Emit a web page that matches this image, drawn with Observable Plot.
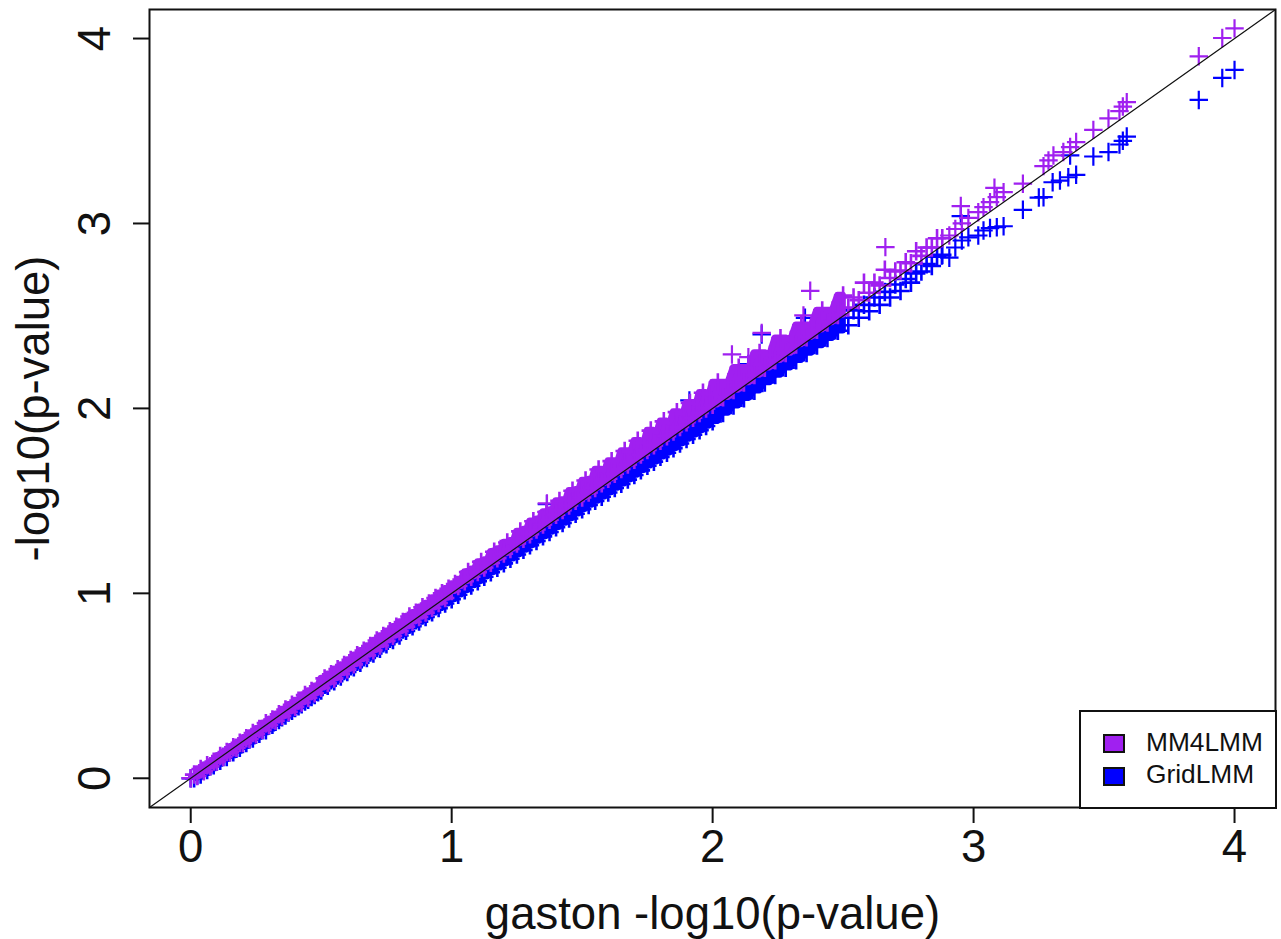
<!DOCTYPE html>
<html><head><meta charset="utf-8">
<script src="https://cdn.jsdelivr.net/npm/d3@7"></script>
<script src="https://cdn.jsdelivr.net/npm/@observablehq/plot@0.6"></script>
<style>
html,body{margin:0;padding:0;background:#fff;font-family:"Liberation Sans",Arial,sans-serif}
#wrap{position:relative;width:1281px;height:939px;overflow:hidden}
#legend{position:absolute;left:1080px;top:711px;width:194px;height:95px;background:#fff;border:2px solid #111;box-sizing:content-box;margin:-1px}
#legend .s{position:absolute;left:22px;width:18px;height:15px;border:2px solid #111}
#legend .t{position:absolute;left:65px;font-size:26.3px;line-height:28px;color:#111}
</style></head><body>
<div id="wrap"><div id="chart"></div>
<div id="legend">
<div class="s" style="top:22px;background:#A020F0"></div><div class="t" style="top:16px">MM4LMM</div>
<div class="s" style="top:55px;background:#0000FF"></div><div class="t" style="top:48px">GridLMM</div>
</div></div>
<script>
const gaston = [0,.013,.025,.038,.05,.063,.075,.088,.1,.113,.125,.138,.15,.163,.175,.188,.2,.213,.225,.238,.25,.263,.275,.288,.3,.313,.325,.338,.35,.363,.375,.388,.4,.413,.425,.438,.45,.463,.475,.488,
.5,.513,.525,.538,.55,.563,.575,.588,.6,.613,.625,.638,.65,.663,.675,.688,.7,.713,.725,.738,.75,.763,.775,.788,.8,.813,.825,.838,.85,.863,.875,.888,.9,.913,.925,.938,.95,.963,.975,.988,
1,1.013,1.025,1.038,1.05,1.063,1.075,1.088,1.1,1.113,1.125,1.138,1.15,1.163,1.175,1.188,1.2,1.213,1.225,1.238,1.25,1.263,1.275,1.288,1.3,1.313,1.325,1.338,1.35,1.363,1.375,1.388,1.4,1.413,1.425,1.438,1.45,1.463,1.475,1.488,
1.5,1.513,1.525,1.538,1.55,1.563,1.575,1.588,1.6,1.613,1.625,1.638,1.65,1.663,1.675,1.688,1.7,1.713,1.725,1.738,1.75,1.763,1.775,1.788,1.8,1.813,1.825,1.838,1.85,1.863,1.875,1.888,1.9,1.913,1.925,1.938,1.95,1.963,1.975,1.988,
2,2.02,2.04,2.06,2.08,2.1,2.12,2.14,2.16,2.18,2.2,2.22,2.24,2.26,2.28,2.3,2.32,2.34,2.36,2.38,2.4,2.42,2.44,2.46,2.48,2.5,2.52,2.54,2.56,2.58,2.6,2.62,2.64,2.66,2.68,2.7,2.72,2.74,2.76,2.78,2.8,2.82,2.84,2.86,2.88];
const mm4lmm = [0,.02,.012,.05,.038,.07,.065,.09,.09,.12,.115,.142,.14,.168,.165,.192,.19,.216,.212,.245,.238,.266,.262,.298,.288,.318,.312,.346,.336,.372,.36,.398,.386,.42,.41,.45,.436,.472,.46,.497,
.49,.54,.515,.562,.54,.59,.566,.612,.59,.64,.616,.665,.642,.69,.667,.715,.692,.745,.718,.77,.744,.795,.77,.82,.795,.845,.82,.875,.846,.895,.872,.925,.896,.945,.922,.975,.948,1.0,.975,1.025,
1.012,1.05,1.04,1.075,1.065,1.115,1.09,1.13,1.115,1.17,1.14,1.18,1.165,1.225,1.19,1.24,1.215,1.275,1.24,1.285,1.27,1.335,1.295,1.345,1.32,1.39,1.345,1.4,1.372,1.44,1.398,1.45,1.425,1.5,1.45,1.505,1.475,1.555,1.5,1.56,
1.518,1.61,1.545,1.615,1.57,1.67,1.595,1.66,1.62,1.715,1.647,1.715,1.672,1.77,1.697,1.765,1.722,1.825,1.75,1.815,1.775,1.88,1.8,1.87,1.825,1.93,1.85,1.92,1.875,1.98,1.9,1.97,1.925,2.03,1.95,2.025,1.975,2.085,2.0,2.075,
2.02,2.14,2.06,2.14,2.10,2.22,2.14,2.22,2.18,2.3,2.22,2.29,2.26,2.38,2.3,2.37,2.345,2.45,2.385,2.45,2.425,2.53,2.465,2.53,2.505,2.61,2.545,2.6,2.585,2.68,2.625,2.68,2.665,2.75,2.705,2.74,2.745,2.79,2.785,2.85,2.825,2.87,2.87,2.92,2.92];
const gridlmm = [0,0,.015,.02,.04,.045,.065,.07,.09,.095,.115,.115,.14,.14,.16,.165,.185,.19,.21,.215,.235,.24,.26,.26,.285,.29,.305,.315,.33,.34,.355,.365,.38,.39,.4,.415,.425,.44,.45,.465,
.475,.505,.5,.53,.525,.555,.55,.58,.575,.605,.6,.63,.625,.655,.65,.68,.675,.705,.7,.73,.725,.755,.748,.78,.772,.805,.797,.83,.822,.855,.847,.88,.872,.905,.897,.93,.92,.955,.945,.98,
.968,1.005,.992,1.03,1.017,1.055,1.042,1.08,1.065,1.105,1.09,1.13,1.114,1.155,1.138,1.18,1.162,1.205,1.187,1.23,1.21,1.255,1.235,1.28,1.26,1.305,1.283,1.33,1.308,1.355,1.332,1.38,1.357,1.405,1.38,1.43,1.405,1.455,1.43,1.48,
1.455,1.505,1.478,1.53,1.5,1.555,1.522,1.58,1.545,1.605,1.57,1.63,1.592,1.655,1.615,1.68,1.64,1.705,1.665,1.73,1.69,1.755,1.712,1.78,1.738,1.805,1.76,1.83,1.785,1.855,1.81,1.88,1.835,1.905,1.858,1.93,1.882,1.955,1.905,1.98,
1.93,2.01,1.975,2.05,2.015,2.09,2.055,2.13,2.095,2.17,2.14,2.21,2.18,2.25,2.22,2.29,2.26,2.33,2.3,2.37,2.34,2.41,2.38,2.45,2.42,2.49,2.45,2.53,2.49,2.56,2.525,2.6,2.56,2.63,2.6,2.67,2.635,2.7,2.68,2.73,2.74,2.78,2.77,2.82,2.83];
const mm4lmmTailX = [1.365,2.074,2.137,2.188,2.348,2.374,2.662,2.907,2.93,2.951,2.955,2.98,3.018,3.038,3.063,3.08,3.089,3.115,3.189,3.268,3.287,3.306,3.344,3.37,3.393,3.459,3.517,3.559,3.572,3.587,3.863,3.953,4.0];
const mm4lmmTailY = [1.486,2.292,2.277,2.408,2.503,2.636,2.872,2.935,2.97,3.094,3.0,3.03,3.061,3.088,3.115,3.193,3.142,3.169,3.215,3.31,3.341,3.368,3.386,3.413,3.44,3.506,3.568,3.607,3.632,3.656,3.904,4.003,4.055];
const gridlmmTailX = [1.365,1.911,2.137,2.188,2.354,2.907,2.878,2.93,2.951,2.955,2.98,3.018,3.038,3.063,3.089,3.115,3.189,3.25,3.268,3.303,3.331,3.363,3.37,3.393,3.459,3.517,3.559,3.572,3.587,3.863,3.953,4.0];
const gridlmmTailY = [1.482,2.043,2.24,2.4,2.49,2.815,2.827,2.87,3.04,2.908,2.925,2.935,2.962,2.975,2.98,2.985,3.074,3.14,3.142,3.223,3.232,3.25,3.368,3.263,3.362,3.386,3.427,3.447,3.47,3.668,3.787,3.83];
const xTicks = [0,1,2,3,4];
const yTicks = [0,1,2,3,4];
const identityLine = [-0.158,4.157];
const domain = [-0.158,4.157];
const denseUpTo = 2.5;

const font = '"Liberation Sans",Arial,sans-serif';
const gridBand = gaston.map((x,i)=>({x,y:gridlmm[i]}));
const gridTail = gridlmmTailX.map((x,i)=>({x,y:gridlmmTailY[i]}));
const mmBand = gaston.map((x,i)=>({x,y:mm4lmm[i]}));
const mmTail = mm4lmmTailX.map((x,i)=>({x,y:mm4lmmTailY[i]}));
const plus = (data,stroke,strokeWidth)=>Plot.dot(data,{x:"x",y:"y",symbol:"plus",r:6,stroke,strokeWidth});
// the overprinted core of the cloud: the range each series' own points span locally
const core = (ys)=>gaston.map((x,i)=>{
  const w=ys.slice(Math.max(0,i-1),i+2);
  return {x,lo:d3.min(w),hi:d3.max(w)};
}).filter(d=>d.x>=0.02&&d.x<=denseUpTo);
const coreArea = (ys,c)=>Plot.areaY(core(ys),{x:"x",y1:"lo",y2:"hi",fill:c,stroke:c,strokeWidth:6.5,strokeLinejoin:"round"});
const plot = Plot.plot({
  width:1281,height:939,marginLeft:149,marginRight:6,marginTop:9,marginBottom:132,
  style:{fontFamily:font,background:"#fff"},
  x:{domain},y:{domain},
  marks:[
    coreArea(gridlmm,"#0000FF"),
    plus(gridBand,"#0000FF",2.6),
    plus(gridTail,"#0000FF",2.2),
    coreArea(mm4lmm,"#A020F0"),
    plus(mmBand,"#A020F0",2.6),
    plus(mmTail,"#A020F0",2.2),
    Plot.line(identityLine.map(v=>({v})),{x:"v",y:"v",stroke:"#111",strokeWidth:1.2}),
    Plot.frame({stroke:"#111",strokeWidth:2}),
    Plot.axisX({ticks:xTicks,tickFormat:d=>String(d),tickSize:16,tickPadding:6,fontSize:45.5,stroke:"#111",strokeWidth:2,color:"#111",
      label:"gaston -log10(p-value)",labelAnchor:"center",labelArrow:"none",labelOffset:121}),
    Plot.axisY({ticks:yTicks,tickFormat:d=>String(d),tickSize:16,tickPadding:24,tickRotate:-90,fontSize:45.5,stroke:"#111",strokeWidth:2,color:"#111",
      label:"-log10(p-value)",labelAnchor:"center",labelArrow:"none",labelOffset:133})
  ]
});
document.getElementById("chart").appendChild(plot);
</script></body></html>
